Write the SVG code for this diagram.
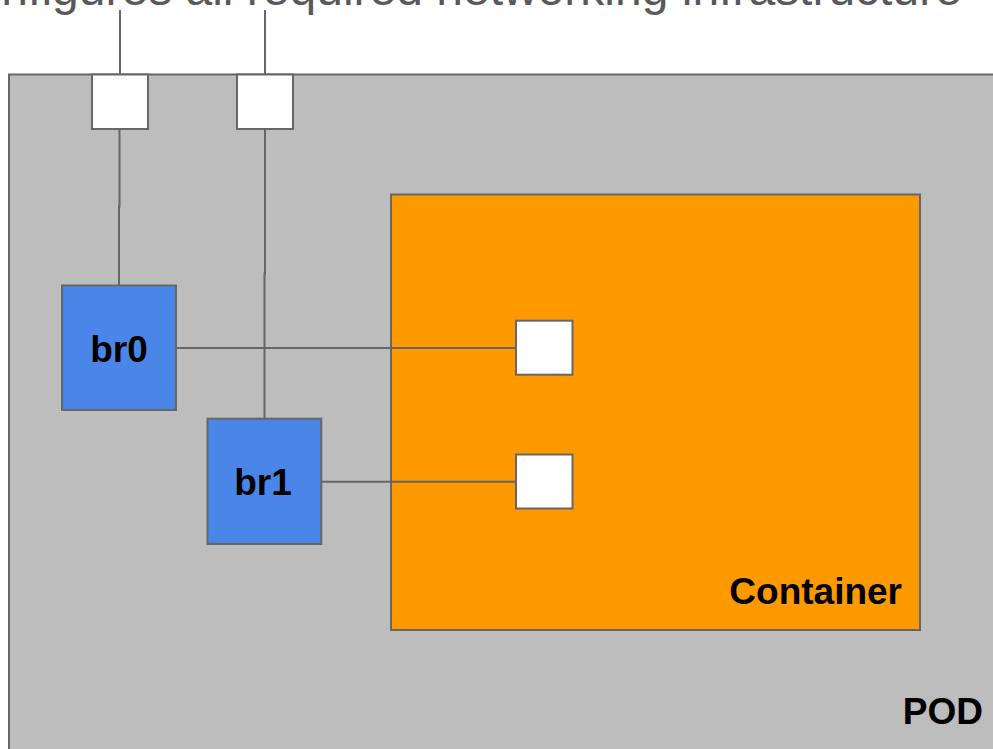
<svg xmlns="http://www.w3.org/2000/svg" width="993" height="749" viewBox="0 0 993 749">
  <style>
    .box { stroke: #666666; stroke-width: 2; }
    .port { fill: #ffffff; }
    .bridge { fill: #4a86e8; }
    .pod { fill: #bdbdbd; }
    .container { fill: #ff9900; }
    .wire { fill: none; stroke: #666666; stroke-width: 2; }
    .lbl { font-family: "Liberation Sans", Arial, sans-serif; font-weight: bold; font-size: 37px; fill: #000000; }
    .title { font-family: "Liberation Sans", Arial, sans-serif; font-size: 48px; fill: #595959; }
  </style>
  <rect width="993" height="749" fill="#ffffff"/>
  <text class="title" x="-60" y="5">Configures all required networking infrastructure</text>
  <g id="pod">
    <rect class="box pod" x="9" y="74.5" width="1000" height="700"/>
    <text class="lbl" x="983" y="724" text-anchor="end">POD</text>
  </g>
  <g id="container">
    <rect class="box container" x="391" y="194.5" width="529" height="435.5"/>
    <text class="lbl" x="902" y="604" text-anchor="end">Container</text>
  </g>
  <g id="connectors">
    <path class="wire" d="M120 10V74"/>
    <path class="wire" d="M265 10V74"/>
    <path class="wire" d="M119.5 129V206.5H119V285"/>
    <path class="wire" d="M265 129V273.5H264.5V418.5"/>
    <path class="wire" d="M176 348H516"/>
    <path class="wire" d="M321 481.8H516"/>
  </g>
  <g id="pod-port-0">
    <rect class="box port" x="92" y="74.5" width="56" height="54.5"/>
  </g>
  <g id="pod-port-1">
    <rect class="box port" x="237" y="74.5" width="56" height="54.5"/>
  </g>
  <g id="br0">
    <rect class="box bridge" x="62" y="285.5" width="114" height="124.5"/>
    <text class="lbl" x="119" y="362" text-anchor="middle">br0</text>
  </g>
  <g id="br1">
    <rect class="box bridge" x="207.5" y="418.7" width="113.8" height="125.3"/>
    <text class="lbl" x="263" y="495" text-anchor="middle">br1</text>
  </g>
  <g id="container-port-0">
    <rect class="box port" x="516" y="320.7" width="56.5" height="54"/>
  </g>
  <g id="container-port-1">
    <rect class="box port" x="516" y="454.5" width="56.5" height="54"/>
  </g>
</svg>
